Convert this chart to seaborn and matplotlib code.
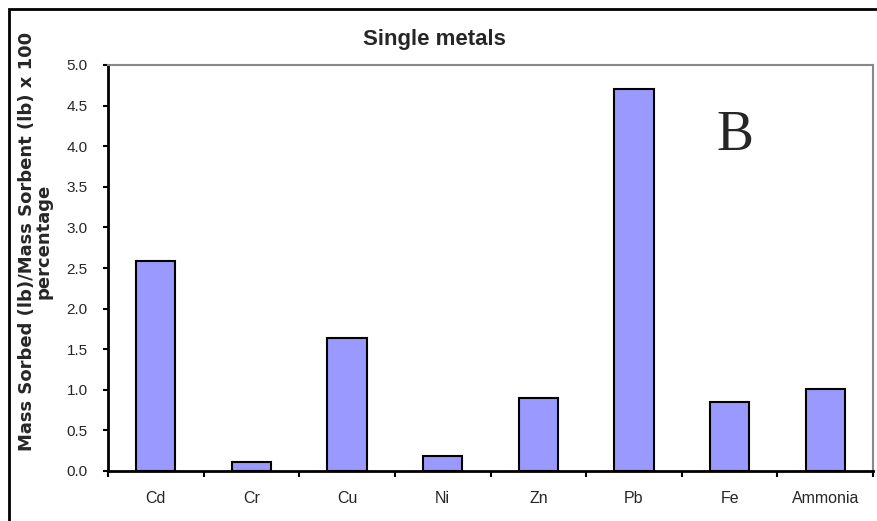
import matplotlib
matplotlib.use("Agg")
import matplotlib.pyplot as plt
import seaborn as sns
import pandas as pd
from matplotlib.patches import Rectangle

categories = ["Cd", "Cr", "Cu", "Ni", "Zn", "Pb", "Fe", "Ammonia"]
values = [2.59, 0.11, 1.64, 0.18, 0.90, 4.71, 0.85, 1.01]
yticks = [0.0, 0.5, 1.0, 1.5, 2.0, 2.5, 3.0, 3.5, 4.0, 4.5, 5.0]

df = pd.DataFrame({"metal": categories, "value": values})

sns.set_style("white")
plt.rcParams["font.family"] = ["Liberation Sans", "DejaVu Sans"]

fig = plt.figure(figsize=(8.77, 5.21), dpi=100)
ax = fig.add_axes([108/877, 1-471/521, (873-108)/877, (471-65)/521])

sns.barplot(data=df, x="metal", y="value", color="#9999FF", edgecolor="black",
            linewidth=1.5, width=0.41, saturation=1, ax=ax)

ax.set_ylim(0, 5)
ax.set_xlim(-0.5, len(categories) - 0.5)
ax.set_yticks(yticks)
ax.set_yticklabels([f"{t:.1f}" for t in yticks], fontsize=11)
ax.set_xticks(range(len(categories)))
ax.set_xticklabels(categories, fontsize=11.5)
ax.tick_params(axis="x", length=0, pad=14.5)
ax.tick_params(axis="y", direction="out", length=3.6, width=1.5, color="black", pad=11, left=True)
# category boundary ticks on x axis
ax.set_xticks([i - 0.5 for i in range(len(categories) + 1)], minor=True)
ax.tick_params(axis="x", which="minor", direction="out", length=4.3, width=1.5, color="black", bottom=True)

for s in ["left", "bottom"]:
    ax.spines[s].set_color("black")
    ax.spines[s].set_linewidth(2)
for s in ["top", "right"]:
    ax.spines[s].set_color("#888888")
    ax.spines[s].set_linewidth(1.5)

ax.set_xlabel("")
ax.set_ylabel("Mass Sorbed (lb)/Mass Sorbent (lb) x 100\npercentage",
              fontsize=13, fontweight="bold", family="DejaVu Sans", linespacing=0.9)
ax.yaxis.set_label_coords((35-108)/765, (471-241)/406)
ax.yaxis.label.set_va("center")

fig.text(434/877, 1-40/521, "Single metals", ha="center", va="center",
         fontsize=16, fontweight="bold")

ax.text(0.82, 0.826, "B", transform=ax.transAxes, ha="center", va="center",
        fontsize=40, family="Liberation Serif")

# outer chart frame
fig.patches.append(Rectangle((9/877, -0.1), 1.1, 1 - 9/521 + 0.1,
                             transform=fig.transFigure, fill=False,
                             edgecolor="black", linewidth=2))

fig.savefig("out.png", dpi=100)
